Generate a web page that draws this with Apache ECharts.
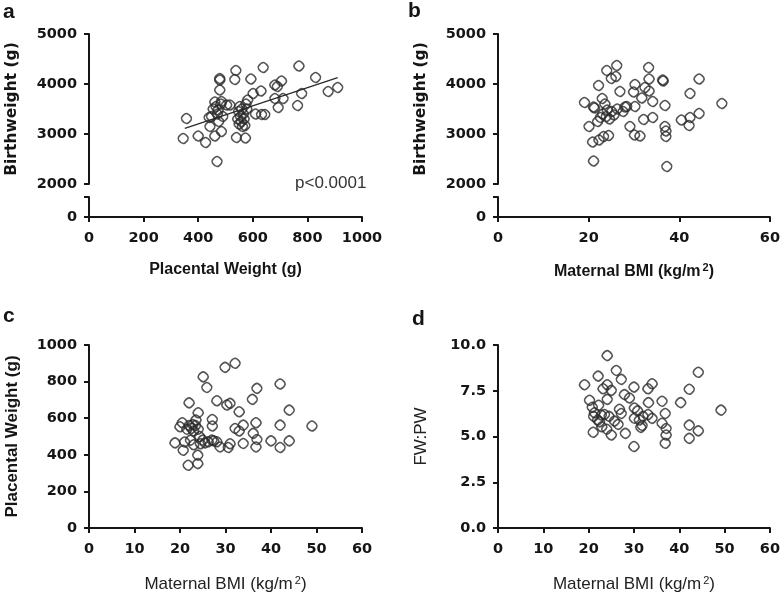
<!DOCTYPE html>
<html>
<head>
<meta charset="utf-8">
<script src="https://cdn.jsdelivr.net/npm/echarts@6/dist/echarts.min.js"></script>
<style>
html,body{margin:0;padding:0;background:#fff;}
#chart{width:783px;height:598px;}
</style>
</head>
<body>
<div id="chart"></div>
<script>
// Panel a: Placental weight (g) vs Birthweight (g)
var aPW = [345,357,400,427,440,443,449,455,461,461,465,469,470,473,475,479,479,479,483,485,485,490,504,516,534,538,540,545,548,550,552,555,558,560,562,565,568,571,573,575,578,581,593,601,610,630,632,638,644,681,681,690,693,705,711,764,769,779,830,876,911];
var aBW = [2910,3310,2960,2830,3330,3150,3350,3500,3640,2960,3550,2450,3400,3480,3250,4110,4080,3880,3600,3050,3650,3350,3580,3580,4090,4270,2930,3300,3450,3200,3550,3350,3250,3500,3150,3400,3300,3170,2920,3600,3500,3680,4100,3810,3400,3860,3390,4330,3390,3980,3710,3950,3530,4060,3710,3570,4360,3810,4130,3850,3930];
var trendX = [351, 911];
var trendY = [3113, 4127];

// Panel b: Maternal BMI vs Birthweight
var bBMI = [19.0,20.0,20.8,21.0,21.0,21.2,21.9,22.1,22.2,22.5,22.9,23.0,23.2,23.5,23.8,23.9,24.0,24.3,24.5,24.9,25.0,25.5,25.9,26.1,26.2,26.8,27.5,27.9,28.3,29.0,29.8,30.0,30.1,30.1,31.2,31.6,32.0,32.3,33.1,33.2,33.2,34.0,34.0,36.2,36.3,36.7,36.7,36.9,36.9,37.1,40.3,42.0,42.2,42.2,44.2,44.2,49.2];
var bBW = [3630,3150,2840,2460,3540,3520,3250,3970,2880,3330,3710,3400,2950,3600,3350,4270,3480,2970,3300,4110,3450,3380,4150,4370,3500,3850,3450,3540,3550,3150,3840,2980,3990,3550,2960,3720,3290,3930,4330,4100,3860,3650,3330,4080,4060,3570,3150,3060,2950,2350,3280,3170,3810,3330,3410,4100,3610];

// Panel c: Maternal BMI vs Placental weight
var cBMI = [18.9,20.0,20.5,20.7,21.0,21.5,21.8,22.0,22.0,22.3,22.5,22.8,23.0,23.0,23.4,23.5,23.9,23.9,24.0,24.0,24.3,24.5,25.0,25.1,25.5,25.9,26.2,27.0,27.1,27.1,27.4,28.1,28.1,28.8,29.9,30.3,30.6,31.0,31.0,32.1,32.1,33.0,33.9,33.9,33.0,35.9,36.1,36.7,36.7,36.9,36.9,40.0,42.0,42.0,42.0,44.0,44.0,49.0];
var cPW = [465,553,575,425,470,540,343,684,560,480,545,565,530,455,560,590,352,398,630,540,500,460,480,826,465,768,471,480,593,557,476,695,471,443,878,672,440,681,460,900,544,635,562,462,530,703,517,575,443,763,484,476,787,562,440,644,476,557];

// Panel d: Maternal BMI vs FW:PW
var dBMI = [19.1,20.2,20.8,21.0,21.1,21.3,22.0,22.1,22.2,22.4,22.8,22.9,23.2,23.5,24.0,24.1,24.1,24.1,24.5,25.0,25.0,25.7,26.1,26.5,26.8,27.2,27.2,27.9,28.1,29.0,30.0,30.0,30.1,30.1,30.8,31.2,31.5,32.0,31.8,33.1,33.1,33.2,34.0,34.0,36.2,36.2,36.9,37.1,37.1,36.9,40.3,42.2,42.2,42.2,44.2,44.2,49.2];
var dRatio = [7.83,6.98,6.6,5.23,6.1,6.3,5.9,8.30,6.71,5.8,6.17,5.53,7.61,6.2,5.4,9.42,7.83,7.03,6.1,7.52,5.08,5.84,8.61,5.66,6.49,8.12,6.26,7.29,5.17,7.10,7.70,4.45,6.56,6.0,6.4,5.9,5.5,6.1,5.6,7.61,6.2,6.85,7.88,5.99,6.93,5.72,6.26,5.44,5.08,4.63,6.85,7.58,5.62,4.90,8.51,5.31,6.44];

var aXTicks = [0, 1000, 200];
var bmiTicks = [0, 60];

function zip(x, y) { return x.map(function (v, i) { return [v, y[i]]; }); }

var FONT = 'Liberation Sans, Arial, sans-serif';
var TICKFONT = 'DejaVu Sans, sans-serif';
var INK = '#151515';
var marker = 'path://M0,-5 C1.6,-5 3.6,-2.8 4.4,-1.7 C5.1,-0.7 5.1,0.7 4.4,1.7 C3.6,2.8 1.6,5 0,5 C-1.6,5 -3.6,2.8 -4.4,1.7 C-5.1,0.7 -5.1,-0.7 -4.4,-1.7 C-3.6,-2.8 -1.6,-5 0,-5 Z';

function plain(v) { return String(v); }

function tickLabel(margin, fmt) {
  return { fontFamily: TICKFONT, fontWeight: 'bold', fontSize: 14.5, color: INK, margin: margin, formatter: fmt || plain };
}

function axisBase(extra) {
  var o = {
    axisLine: { show: true, onZero: false, lineStyle: { color: INK, width: 2 } },
    axisTick: { show: true, length: 5, lineStyle: { color: INK, width: 2 } },
    splitLine: { show: false },
    nameTextStyle: { fontFamily: FONT, fontWeight: 'bold', fontSize: 16, color: INK }
  };
  for (var k in extra) o[k] = extra[k];
  return o;
}

var richSup = {
  sup: { fontSize: 11, verticalAlign: 'top', padding: [0, 0, 8, 2], fontFamily: FONT }
};

var grids = [
  { left: 89, top: 34, width: 273, height: 150 },
  { left: 89, top: 197, width: 273, height: 20 },
  { left: 498, top: 34, width: 273, height: 150 },
  { left: 498, top: 197, width: 273, height: 20 },
  { left: 89, top: 345, width: 273, height: 183 },
  { left: 498, top: 345, width: 273, height: 183 }
];

var xAxes = [
  { type: 'value', gridIndex: 0, min: aXTicks[0], max: aXTicks[1], show: false },
  axisBase({ type: 'value', gridIndex: 1, min: aXTicks[0], max: aXTicks[1], interval: aXTicks[2],
    axisLabel: tickLabel(14),
    name: 'Placental Weight (g)', nameLocation: 'middle', nameGap: 45 }),
  { type: 'value', gridIndex: 2, min: bmiTicks[0], max: bmiTicks[1], show: false },
  axisBase({ type: 'value', gridIndex: 3, min: bmiTicks[0], max: bmiTicks[1], interval: 20,
    axisLabel: tickLabel(14),
    name: 'Maternal BMI (kg/m{sup|2})', nameLocation: 'middle', nameGap: 45,
    nameTextStyle: { fontFamily: FONT, fontWeight: 'bold', fontSize: 16, color: INK, rich: richSup } }),
  axisBase({ type: 'value', gridIndex: 4, min: bmiTicks[0], max: bmiTicks[1], interval: 10,
    axisLabel: tickLabel(14),
    name: 'Maternal BMI (kg/m{sup|2})', nameLocation: 'middle', nameGap: 47,
    nameTextStyle: { fontFamily: FONT, fontWeight: 'normal', fontSize: 17, color: '#222', rich: richSup } }),
  axisBase({ type: 'value', gridIndex: 5, min: bmiTicks[0], max: bmiTicks[1], interval: 10,
    axisLabel: tickLabel(14),
    name: 'Maternal BMI (kg/m{sup|2})', nameLocation: 'middle', nameGap: 47,
    nameTextStyle: { fontFamily: FONT, fontWeight: 'normal', fontSize: 17, color: '#222', rich: richSup } })
];

var bwName = { fontFamily: TICKFONT, fontWeight: 'bold', fontSize: 15.5, color: INK };

var yAxes = [
  axisBase({ type: 'value', gridIndex: 0, min: 2000, max: 5000, interval: 1000,
    axisLabel: tickLabel(12),
    name: 'Birthweight (g)', nameLocation: 'middle', nameGap: 69, nameTextStyle: bwName }),
  axisBase({ type: 'value', gridIndex: 1, min: 0, max: 1, interval: 1,
    axisLabel: tickLabel(12, function (v) { return v === 0 ? '0' : ''; }) }),
  axisBase({ type: 'value', gridIndex: 2, min: 2000, max: 5000, interval: 1000,
    axisLabel: tickLabel(12),
    name: 'Birthweight (g)', nameLocation: 'middle', nameGap: 69, nameTextStyle: bwName }),
  axisBase({ type: 'value', gridIndex: 3, min: 0, max: 1, interval: 1,
    axisLabel: tickLabel(12, function (v) { return v === 0 ? '0' : ''; }) }),
  axisBase({ type: 'value', gridIndex: 4, min: 0, max: 1000, interval: 200,
    axisLabel: tickLabel(12),
    name: 'Placental Weight (g)', nameLocation: 'middle', nameGap: 68,
    nameTextStyle: { fontFamily: FONT, fontWeight: 'bold', fontSize: 17, color: INK } }),
  axisBase({ type: 'value', gridIndex: 5, min: 0, max: 10, interval: 2.5,
    axisLabel: tickLabel(12, function (v) { return v.toFixed(1); }),
    name: 'FW:PW', nameLocation: 'middle', nameGap: 68,
    nameTextStyle: { fontFamily: FONT, fontWeight: 'normal', fontSize: 17, color: '#222' } })
];

function scatter(idx, data) {
  return {
    type: 'scatter', xAxisIndex: idx, yAxisIndex: idx, data: data,
    symbol: marker, symbolSize: 10, silent: true,
    itemStyle: { color: 'rgba(0,0,0,0)', borderColor: '#2a2a2a', borderWidth: 1.6 }
  };
}

var option = {
  backgroundColor: '#fff',
  animation: false,
  grid: grids,
  xAxis: xAxes,
  yAxis: yAxes,
  series: [
    scatter(0, zip(aPW, aBW)),
    {
      type: 'line', xAxisIndex: 0, yAxisIndex: 0, data: zip(trendX, trendY),
      symbol: 'none', silent: true, lineStyle: { color: '#2a2a2a', width: 1.3 }
    },
    scatter(2, zip(bBMI, bBW)),
    scatter(4, zip(cBMI, cPW)),
    scatter(5, zip(dBMI, dRatio))
  ],
  graphic: [
    { type: 'text', left: 3, top: 2, style: { text: 'a', font: 'bold 21px ' + FONT, fill: INK } },
    { type: 'text', left: 408, top: 1, style: { text: 'b', font: 'bold 21px ' + FONT, fill: INK } },
    { type: 'text', left: 3, top: 306, style: { text: 'c', font: 'bold 21px ' + FONT, fill: INK } },
    { type: 'text', left: 412, top: 309, style: { text: 'd', font: 'bold 21px ' + FONT, fill: INK } },
    { type: 'text', left: 295, top: 175, style: { text: 'p<0.0001', font: '17px ' + FONT, fill: '#333' } }
  ]
};

var chart = echarts.init(document.getElementById('chart'), null, { renderer: 'canvas' });
chart.setOption(option);
</script>
</body>
</html>
